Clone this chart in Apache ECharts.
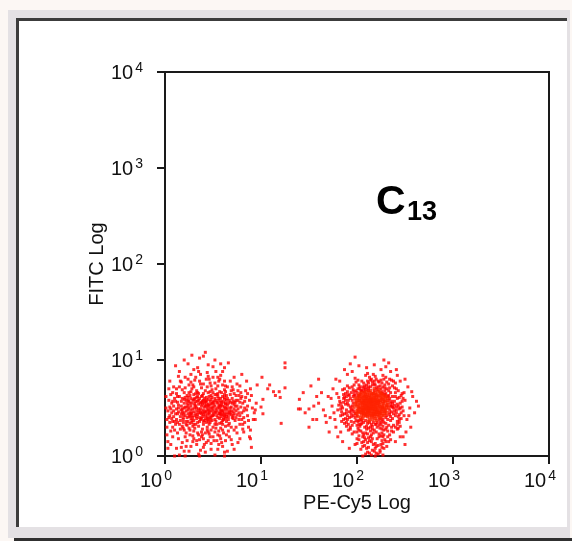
<!DOCTYPE html>
<html><head><meta charset="utf-8">
<script src="https://cdn.jsdelivr.net/npm/echarts@6/dist/echarts.min.js"></script>
<style>html,body{margin:0;padding:0;background:#fff;}#c{width:572px;height:541px;}</style>
</head><body><div id="c"></div>
<script>
// Tick exponents (labels 10^n)
const xTickExps = [0, 1, 2, 3, 4];
const yTickExps = [0, 1, 2, 3, 4];
const xName = 'PE-Cy5 Log';
const yName = 'FITC Log';
const panelLabel = 'C';
const panelSub = '13';

// Events as [log10(PE-Cy5), log10(FITC)]
const cluster1 = [
[0.45,0.48],[0.32,0.52],[0.58,0.41],[0.27,0.39],[0.51,0.57],[0.38,0.44],[0.63,0.50],[0.22,0.47],[0.47,0.35],[0.55,0.62],
[0.41,0.55],[0.35,0.31],[0.68,0.45],[0.29,0.58],[0.49,0.42],[0.60,0.37],[0.24,0.53],[0.43,0.61],[0.53,0.49],[0.36,0.40],
[0.70,0.55],[0.19,0.43],[0.46,0.53],[0.57,0.46],[0.33,0.47],[0.40,0.36],[0.62,0.59],[0.26,0.34],[0.50,0.51],[0.44,0.44],
[0.31,0.60],[0.66,0.41],[0.21,0.51],[0.54,0.33],[0.39,0.57],[0.48,0.47],[0.59,0.54],[0.28,0.45],[0.42,0.39],[0.64,0.48],
[0.35,0.54],[0.52,0.38],[0.25,0.57],[0.45,0.59],[0.61,0.43],[0.37,0.49],[0.56,0.52],[0.30,0.37],[0.47,0.50],[0.72,0.49],
[0.18,0.49],[0.43,0.47],[0.58,0.56],[0.34,0.43],[0.50,0.45],[0.65,0.53],[0.23,0.40],[0.41,0.51],[0.55,0.40],[0.38,0.62],
[0.48,0.54],[0.29,0.49],[0.62,0.45],[0.36,0.36],[0.53,0.58],[0.44,0.41],[0.67,0.47],[0.20,0.55],[0.46,0.44],[0.57,0.50],
[0.32,0.44],[0.49,0.61],[0.40,0.48],[0.60,0.52],[0.27,0.52],[0.51,0.43],[0.35,0.58],[0.63,0.39],[0.43,0.53],[0.54,0.47],
[0.26,0.45],[0.39,0.41],[0.58,0.60],[0.47,0.38],[0.31,0.55],[0.69,0.51],[0.42,0.57],[0.52,0.52],[0.37,0.45],[0.61,0.48],
[0.24,0.48],[0.45,0.36],[0.56,0.44],[0.33,0.50],[0.50,0.56],[0.64,0.43],[0.28,0.42],[0.41,0.45],[0.59,0.47],[0.46,0.62],
[0.12,0.38],[0.78,0.42],[0.15,0.62],[0.81,0.55],[0.09,0.47],[0.74,0.30],[0.16,0.28],[0.85,0.48],[0.07,0.55],[0.77,0.63],
[0.35,0.22],[0.52,0.25],[0.44,0.72],[0.28,0.70],[0.60,0.74],[0.40,0.18],[0.66,0.26],[0.22,0.24],[0.56,0.78],[0.31,0.79],
[0.11,0.33],[0.73,0.37],[0.18,0.69],[0.79,0.66],[0.05,0.42],[0.83,0.35],[0.14,0.50],[0.76,0.58],[0.10,0.60],[0.71,0.69],
[0.48,0.27],[0.25,0.29],[0.63,0.31],[0.37,0.75],[0.53,0.70],[0.19,0.35],[0.68,0.64],[0.42,0.24],[0.57,0.21],[0.30,0.26],
[0.13,0.44],[0.80,0.45],[0.08,0.36],[0.75,0.52],[0.17,0.57],[0.84,0.61],[0.06,0.49],[0.72,0.27],[0.20,0.66],[0.78,0.33],
[0.47,0.76],[0.33,0.68],[0.59,0.66],[0.26,0.63],[0.65,0.72],[0.39,0.28],[0.50,0.20],[0.23,0.32],[0.61,0.24],[0.45,0.66],
[0.10,0.27],[0.70,0.60],[0.16,0.41],[0.82,0.40],[0.04,0.58],[0.74,0.47],[0.12,0.65],[0.79,0.51],[0.08,0.30],[0.76,0.68],
[0.36,0.17],[0.54,0.16],[0.29,0.74],[0.62,0.69],[0.43,0.80],[0.21,0.20],[0.67,0.34],[0.34,0.24],[0.55,0.73],[0.27,0.77],
[0.14,0.53],[0.86,0.52],[0.09,0.41],[0.73,0.56],[0.18,0.31],[0.81,0.28],[0.06,0.64],[0.71,0.42],[0.15,0.72],[0.77,0.38],
[0.49,0.69],[0.32,0.33],[0.58,0.29],[0.40,0.65],[0.64,0.63],[0.24,0.61],[0.46,0.23],[0.38,0.71],[0.52,0.64],[0.30,0.64],
[0.11,0.57],[0.69,0.30],[0.20,0.45],[0.83,0.57],[0.07,0.45],[0.75,0.43],[0.13,0.35],[0.80,0.62],[0.17,0.48],[0.72,0.65],
[0.44,0.30],[0.57,0.34],[0.34,0.66],[0.60,0.27],[0.26,0.27],[0.48,0.73],[0.39,0.22],[0.63,0.67],[0.22,0.58],[0.53,0.29],
[0.03,0.15],[0.12,0.08],[0.25,0.05],[0.40,0.09],[0.55,0.07],[0.70,0.12],[0.88,0.20],[0.92,0.38],[0.95,0.55],[0.89,0.70],
[0.80,0.85],[0.62,0.92],[0.45,0.95],[0.30,0.90],[0.15,0.88],[0.05,0.78],[0.02,0.30],[0.01,0.62],[0.18,0.14],[0.33,0.12],
[0.48,0.13],[0.63,0.16],[0.78,0.18],[0.87,0.30],[0.90,0.63],[0.72,0.82],[0.53,0.88],[0.37,0.85],[0.21,0.82],[0.09,0.72],
[0.36,1.02],[0.28,1.05],[0.42,1.08],[0.52,1.00],[0.20,1.00],[0.66,0.97],[0.11,0.94],[0.58,0.84],[0.27,0.85],[0.44,0.87],
[0.08,0.20],[0.22,0.10],[0.35,0.02],[0.52,0.01],[0.15,0.01],[0.10,0.00],[0.65,0.05],[0.75,0.75],[0.85,0.78],[0.93,0.45],
[0.68,0.78],[0.50,0.82],[0.32,0.82],[0.17,0.77],[0.04,0.70],[0.02,0.22],[0.29,0.15],[0.45,0.16],[0.60,0.10],[0.82,0.25],
[0.21,0.00],[0.36,0.00],[0.62,0.00]
];

const cluster1b = [
[0.19,0.38],[0.34,0.57],[0.52,0.46],[0.67,0.58],[0.23,0.63],[0.40,0.33],[0.57,0.39],[0.71,0.46],[0.28,0.55],[0.45,0.52],
[0.61,0.56],[0.36,0.47],[0.49,0.37],[0.64,0.36],[0.21,0.42],[0.38,0.52],[0.55,0.55],[0.70,0.40],[0.25,0.50],[0.42,0.42],
[0.59,0.43],[0.33,0.39],[0.47,0.57],[0.62,0.51],[0.17,0.52],[0.30,0.46],[0.44,0.50],[0.58,0.48],[0.73,0.52],[0.27,0.60],
[0.41,0.60],[0.54,0.42],[0.68,0.50],[0.22,0.36],[0.37,0.38],[0.51,0.54],[0.65,0.45],[0.31,0.42],[0.46,0.47],[0.60,0.62],
[0.26,0.55],[0.39,0.54],[0.53,0.36],[0.66,0.55],[0.20,0.59],[0.34,0.35],[0.48,0.40],[0.63,0.54],[0.29,0.40],[0.43,0.56],
[0.56,0.58],[0.69,0.43],[0.24,0.44],[0.40,0.43],[0.55,0.50],[0.32,0.57],[0.47,0.41],[0.61,0.40],[0.18,0.46],[0.36,0.60],
[0.50,0.48],[0.64,0.58],[0.28,0.35],[0.42,0.46],[0.57,0.53],[0.71,0.57],[0.25,0.41],[0.38,0.56],[0.52,0.60],[0.66,0.38],
[0.31,0.50],[0.45,0.39],[0.59,0.57],[0.23,0.55],[0.35,0.45],[0.49,0.55],[0.62,0.42],[0.27,0.48],[0.43,0.35],[0.58,0.44],
[0.72,0.44],[0.33,0.61],[0.48,0.59],[0.54,0.64],[0.39,0.63],[0.65,0.60],[0.21,0.61],[0.30,0.33],[0.46,0.33],[0.60,0.33],
[0.14,0.46],[0.16,0.37],[0.13,0.56],[0.76,0.49],[0.78,0.56],[0.74,0.40],[0.50,0.66],[0.35,0.65],[0.57,0.67],[0.42,0.68],
[0.27,0.67],[0.62,0.64],[0.44,0.27],[0.31,0.29],[0.56,0.26],[0.38,0.25],[0.50,0.30],[0.24,0.36],[0.66,0.32],[0.19,0.29],
[0.09,0.52],[0.11,0.44],[0.82,0.47],[0.80,0.38],[0.07,0.39],[0.05,0.51],[0.12,0.70],[0.70,0.72],[0.36,0.78],[0.55,0.82],
[0.25,0.74],[0.46,0.80],[0.62,0.78],[0.16,0.78],[0.41,0.12],[0.29,0.21],[0.58,0.18],[0.23,0.16],[0.47,0.20],[0.67,0.20],
[0.13,0.24],[0.75,0.24],[0.05,0.35],[0.86,0.42],[0.03,0.47],[0.88,0.58],[0.84,0.68],[0.06,0.26],[0.34,0.92],[0.50,0.93],
[0.40,1.04],[0.24,0.96],[0.60,0.88],[0.14,0.83],[0.78,0.73],[0.03,0.08],[0.20,0.05],[0.42,0.04],[0.56,0.12],[0.72,0.07],
[0.20,0.50],[0.35,0.49],[0.50,0.42],[0.65,0.50],[0.28,0.37],[0.43,0.58],[0.58,0.52],[0.24,0.58],[0.39,0.46],[0.54,0.56],
[0.69,0.47],[0.31,0.53],[0.46,0.45],[0.61,0.38],[0.19,0.40],[0.34,0.62],[0.49,0.50],[0.64,0.41],[0.27,0.44],[0.42,0.52],
[0.57,0.44],[0.72,0.54],[0.23,0.51],[0.38,0.39],[0.53,0.45],[0.68,0.56],[0.30,0.59],[0.45,0.54],[0.60,0.46],[0.17,0.44],
[0.33,0.41],[0.48,0.63],[0.63,0.55],[0.26,0.42],[0.41,0.37],[0.56,0.60],[0.71,0.39],[0.22,0.33],[0.37,0.55],[0.52,0.33],
[0.67,0.44],[0.29,0.31],[0.44,0.38],[0.59,0.35],[0.25,0.66],[0.40,0.58],[0.55,0.65],[0.32,0.65],[0.47,0.67],[0.62,0.61],
[0.15,0.33],[0.18,0.60],[0.12,0.49],[0.74,0.58],[0.77,0.45],[0.79,0.60],[0.10,0.36],[0.08,0.57],[0.83,0.50],[0.81,0.33],
[0.30,0.18],[0.45,0.25],[0.55,0.22],[0.38,0.20],[0.26,0.22],[0.64,0.22],[0.20,0.27],[0.51,0.16],[0.43,0.14],[0.33,0.16],
[0.14,0.18],[0.59,0.14],[0.69,0.17],[0.27,0.10],[0.48,0.07],[0.17,0.09],[0.37,0.06],[0.06,0.12],[0.76,0.14],[0.62,0.04],
[0.40,0.75],[0.52,0.76],[0.30,0.72],[0.63,0.73],[0.21,0.71],[0.45,0.83],[0.35,0.88],[0.57,0.80],[0.24,0.80],[0.69,0.68],
[0.13,0.62],[0.74,0.63],[0.08,0.66],[0.87,0.37],[0.91,0.50],[0.04,0.40],[0.01,0.50],[0.02,0.38],[0.86,0.65],[0.58,0.96]
];

const cluster2Core = [
[2.15,0.52],[2.08,0.58],[2.22,0.45],[2.01,0.49],[2.18,0.63],[2.11,0.41],[2.27,0.55],[1.98,0.60],[2.13,0.47],[2.24,0.66],
[2.05,0.43],[2.19,0.54],[2.10,0.62],[2.30,0.48],[2.03,0.55],[2.16,0.38],[2.21,0.59],[2.07,0.51],[2.26,0.42],[1.99,0.44],
[2.14,0.68],[2.20,0.50],[2.09,0.46],[2.32,0.60],[2.04,0.64],[2.17,0.44],[2.23,0.52],[2.12,0.56],[2.00,0.53],[2.28,0.63],
[2.06,0.39],[2.19,0.47],[2.15,0.60],[2.25,0.49],[2.02,0.58],[2.11,0.53],[2.29,0.44],[2.08,0.66],[2.22,0.57],[1.97,0.51],
[2.13,0.42],[2.18,0.70],[2.05,0.48],[2.31,0.53],[2.10,0.49],[2.24,0.40],[2.16,0.57],[2.03,0.62],[2.20,0.64],[2.07,0.45],
[2.27,0.59],[2.12,0.36],[2.14,0.55],[2.23,0.47],[2.01,0.41],[2.19,0.51],[2.09,0.60],[2.26,0.52],[2.04,0.50],[2.17,0.65],
[2.21,0.43],[2.06,0.56],[2.33,0.50],[2.11,0.45],[2.15,0.45],[2.25,0.61],[1.99,0.57],[2.18,0.41],[2.08,0.53],[2.29,0.57],
[2.13,0.59],[2.22,0.62],[2.02,0.46],[2.16,0.50],[2.10,0.67],[2.28,0.46],[2.05,0.60],[2.20,0.37],[2.14,0.49],[2.24,0.56],
[2.07,0.63],[2.19,0.58],[2.00,0.47],[2.26,0.64],[2.12,0.51],[2.31,0.45],[2.09,0.42],[2.17,0.53],[2.23,0.69],[2.04,0.54],
[2.15,0.64],[2.21,0.48],[2.06,0.47],[2.30,0.62],[2.11,0.58],[2.18,0.46],[1.98,0.54],[2.25,0.44],[2.13,0.54],[2.08,0.49],
[2.27,0.51],[2.03,0.65],[2.20,0.55],[2.16,0.42],[2.10,0.55],[2.32,0.56],[2.05,0.45],[2.22,0.50],[2.14,0.61],[2.01,0.52],
[2.24,0.58],[2.12,0.48],[2.18,0.60],[2.07,0.58],[2.29,0.50],[2.15,0.56],[2.09,0.64],[2.23,0.43],[2.19,0.66],[2.02,0.60],
[2.16,0.47],[2.10,0.52],[2.21,0.53],[2.06,0.61],[2.25,0.46],[2.13,0.63],[2.19,0.43],[2.03,0.51],[2.28,0.54],[2.09,0.57],
[2.15,0.41],[2.22,0.67],[2.00,0.56],[2.18,0.56],[2.12,0.45],[2.26,0.60],[2.07,0.48],[2.24,0.51],[2.14,0.58],[2.04,0.46],
[2.20,0.61],[2.11,0.50],[2.29,0.47],[2.08,0.44],[2.17,0.49],[2.23,0.58],[2.02,0.63],[2.13,0.66],[2.19,0.39],[2.06,0.53],
[2.27,0.57],[2.10,0.60],[2.16,0.54],[2.21,0.46],[2.05,0.66],[2.31,0.51],[2.14,0.44],[2.24,0.63],[2.09,0.50],[2.18,0.52],
[2.01,0.45],[2.22,0.41],[2.12,0.61],[2.26,0.48],[2.07,0.55],[2.15,0.58],[2.20,0.57],[2.03,0.58],[2.30,0.58],[2.11,0.47],
[2.17,0.61],[2.23,0.54],[2.08,0.62],[2.13,0.50],[2.25,0.65],[2.04,0.40],[2.19,0.49],[2.10,0.43],[2.28,0.42],[2.16,0.65],
[2.06,0.50],[2.21,0.63],[2.14,0.52],[2.32,0.53],[2.00,0.60],[2.18,0.44],[2.12,0.57],[2.27,0.50],[2.09,0.54],[2.22,0.55],
[2.05,0.57],[2.15,0.49],[2.24,0.45],[2.11,0.64],[2.29,0.61],[2.02,0.49],[2.20,0.46],[2.07,0.42],[2.17,0.58],[2.13,0.38]
];

const cluster2 = [
[1.85,0.50],[2.45,0.55],[1.90,0.38],[2.40,0.42],[1.88,0.65],[2.43,0.68],[1.93,0.30],[2.38,0.32],[1.82,0.57],[2.48,0.47],
[2.00,0.25],[2.15,0.22],[2.28,0.27],[2.05,0.78],[2.20,0.80],[2.33,0.75],[1.95,0.72],[2.10,0.28],[2.25,0.33],[2.12,0.76],
[1.87,0.44],[2.42,0.60],[1.91,0.58],[2.37,0.39],[1.84,0.36],[2.46,0.63],[1.94,0.66],[2.39,0.71],[1.89,0.31],[2.44,0.35],
[2.03,0.31],[2.18,0.27],[2.31,0.30],[2.08,0.73],[2.23,0.77],[2.36,0.79],[1.97,0.35],[2.13,0.82],[2.26,0.24],[2.01,0.70],
[1.86,0.60],[2.47,0.51],[1.92,0.46],[2.41,0.48],[1.80,0.48],[2.50,0.58],[1.96,0.42],[2.35,0.66],[1.90,0.73],[2.42,0.28],
[2.06,0.20],[2.21,0.18],[2.34,0.22],[2.09,0.84],[2.17,0.85],[2.30,0.82],[1.99,0.77],[2.14,0.30],[2.27,0.72],[2.04,0.26],
[1.83,0.42],[2.44,0.43],[1.88,0.54],[2.39,0.57],[1.85,0.69],[2.46,0.39],[1.93,0.51],[2.36,0.46],[1.91,0.27],[2.40,0.76],
[2.02,0.37],[2.19,0.33],[2.32,0.38],[2.07,0.70],[2.22,0.72],[2.35,0.52],[1.96,0.62],[2.11,0.34],[2.28,0.35],[2.16,0.74],
[1.87,0.34],[2.49,0.66],[1.94,0.47],[2.38,0.50],[1.81,0.53],[2.45,0.31],[1.97,0.67],[2.34,0.60],[1.89,0.62],[2.43,0.52],
[2.00,0.32],[2.24,0.29],[2.09,0.24],[2.18,0.78],[2.31,0.70],[2.05,0.68],[2.27,0.20],[2.12,0.19],[2.38,0.25],[1.95,0.23],
[2.15,0.15],[2.20,0.10],[2.10,0.08],[2.25,0.12],[2.05,0.14],[2.18,0.05],[2.22,0.02],[2.13,0.03],[2.30,0.15],[2.00,0.18],
[2.28,0.08],[2.08,0.11],[2.35,0.17],[1.98,0.12],[2.17,0.12],[2.06,0.00],[2.19,0.00],[2.27,0.01],
[1.60,0.55],[1.65,0.48],[1.70,0.62],[1.72,0.40],[1.75,0.70],[1.78,0.30],[1.68,0.35],[1.63,0.66],[1.74,0.52],[1.76,0.45],
[2.55,0.50],[2.58,0.62],[2.52,0.38],[2.60,0.45],[2.53,0.72],[2.62,0.57],[2.56,0.30],[2.50,0.80],[2.64,0.52],[2.51,0.25],
[1.95,0.88],[2.10,0.92],[2.25,0.90],[2.35,0.88],[2.42,0.84],[2.02,0.94],[2.18,0.95],[2.30,0.93],[1.90,0.85],[2.45,0.78],
[1.80,0.20],[1.85,0.15],[1.92,0.08],[2.40,0.15],[2.45,0.20],[2.50,0.12],[1.78,0.80],[1.82,0.78],[1.98,1.03],[2.28,1.00],
[1.73,0.60],[1.77,0.38],[2.57,0.67],[2.54,0.42],[2.48,0.20],[1.83,0.25],[2.41,0.90],[1.87,0.90],[1.93,0.96],[2.33,0.97],
[1.58,0.62],[1.55,0.52],[1.67,0.42],[1.71,0.25],[1.79,0.65],
[1.96,0.55],[1.94,0.44],[2.34,0.45],[2.36,0.57],[1.97,0.64],[2.33,0.63],[2.01,0.36],[2.27,0.38],[2.12,0.70],[2.20,0.71],
[2.05,0.34],[2.24,0.35],[2.15,0.33],[2.09,0.69],[2.29,0.68],[1.98,0.40],[2.35,0.41],[2.03,0.70],[2.17,0.35],[2.25,0.70],
[1.89,0.48],[1.91,0.53],[2.39,0.53],[2.41,0.45],[1.86,0.56],[2.37,0.62],[1.92,0.63],[1.90,0.42],[2.40,0.66],[1.94,0.36],
[2.08,0.30],[2.21,0.30],[2.14,0.26],[2.01,0.29],[2.30,0.34],[2.11,0.78],[2.26,0.76],[2.02,0.74],[2.19,0.74],[2.34,0.71],
[2.07,0.22],[2.23,0.23],[2.16,0.18],[2.11,0.14],[2.26,0.16],[2.02,0.21],[2.32,0.26],[2.19,0.08],[2.09,0.17],[2.24,0.06],
[1.84,0.46],[1.88,0.39],[2.44,0.49],[2.47,0.57],[1.86,0.64],[2.42,0.36],[1.81,0.61],[2.49,0.42],[1.98,0.81],[2.27,0.84],
[1.88,0.58],[2.42,0.54],[1.92,0.40],[2.38,0.44],[1.90,0.67],[2.41,0.70],[1.95,0.32],[2.36,0.30],[1.84,0.52],[2.46,0.45],
[2.02,0.27],[2.17,0.24],[2.30,0.28],[2.07,0.76],[2.22,0.78],[2.31,0.77],[1.97,0.74],[2.12,0.29],[2.27,0.31],[2.14,0.79],
[1.89,0.45],[2.40,0.62],[1.93,0.60],[2.35,0.37],[1.86,0.38],[2.44,0.61],[1.96,0.69],[2.37,0.73],[1.91,0.33],[2.42,0.33],
[2.04,0.33],[2.20,0.25],[2.33,0.32],[2.10,0.74],[2.25,0.79],[2.34,0.80],[1.99,0.37],[2.15,0.80],[2.28,0.22],[2.03,0.72],
[1.87,0.61],[2.45,0.50],[1.94,0.49],[2.39,0.47],[1.83,0.49],[2.48,0.60],[1.98,0.44],[2.33,0.68],[1.92,0.71],[2.40,0.30],
[2.08,0.19],[2.23,0.20],[2.32,0.20],[2.11,0.86],[2.19,0.83],[2.28,0.80],[2.01,0.79],[2.16,0.28],[2.29,0.74],[2.06,0.24],
[1.85,0.43],[2.43,0.41],[1.90,0.55],[2.37,0.55],[1.87,0.70],[2.44,0.38],[1.95,0.52],[2.34,0.48],[1.93,0.28],[2.38,0.78],
[2.04,0.38],[2.21,0.35],[2.30,0.40],[2.09,0.71],[2.24,0.73],[2.37,0.51],[1.98,0.63],[2.13,0.35],[2.26,0.36],[2.18,0.75],
[1.89,0.35],[2.47,0.65],[1.96,0.48],[2.36,0.52],[1.83,0.55],[2.43,0.29],[1.99,0.68],[2.32,0.62],[1.91,0.64],[2.41,0.51],
[2.02,0.33],[2.26,0.28],[2.11,0.23],[2.16,0.77],[2.29,0.71],[2.07,0.67],[2.25,0.21],[2.14,0.20],[2.36,0.26],[1.97,0.25],
[2.13,0.16],[2.22,0.11],[2.12,0.09],[2.27,0.13],[2.07,0.15],[2.16,0.06],[2.20,0.03],[2.11,0.04],[2.29,0.17],[2.02,0.17],
[2.26,0.09],[2.06,0.10],[2.33,0.15],[2.00,0.13],[2.19,0.13],[2.09,0.02],[2.15,0.01],[2.24,0.04],[2.04,0.07],[2.31,0.10],
[2.05,0.37],[2.23,0.38],[2.10,0.31],[2.20,0.33],[2.00,0.66],[2.30,0.65],[2.12,0.72],[2.21,0.69],[2.06,0.72],[2.26,0.67],
[1.95,0.58],[2.35,0.55],[1.94,0.41],[2.34,0.43],[1.97,0.46],[2.33,0.58],[2.04,0.68],[2.27,0.65],[2.07,0.35],[2.23,0.32],
[2.00,0.42],[2.31,0.42],[2.01,0.63],[2.29,0.64],[2.16,0.31],[2.12,0.68],[2.18,0.68],[2.09,0.37],[2.25,0.39],[2.14,0.72]
];

const strays = [
[1.25,0.97],[1.25,0.92],[1.01,0.82],[0.96,0.74],[1.09,0.74],[1.07,0.70],[1.13,0.67],[1.19,0.67],[1.15,0.63],[1.20,0.61],
[1.02,0.59],[1.25,0.71],[1.44,0.66],[1.40,0.59],[1.39,0.49],[1.41,0.49],[1.46,0.45],[1.50,0.49],[1.52,0.73],[1.00,0.51],
[1.02,0.44],[0.94,0.38],[1.21,0.34],[1.50,0.30],[1.54,0.38],[1.58,0.38],[1.60,0.80],[0.89,0.27],[0.89,0.18],[0.90,0.09],
[0.94,0.48]
];

const toVal = arr => arr.map(p => [Math.pow(10, p[0]), Math.pow(10, p[1])]);
const supLabel = v => {
  const e = Math.round(Math.log10(v));
  return '{b|10}{s|' + e + '}';
};
const FONT = '"Liberation Sans", Arial, sans-serif';
const rich = {
  b: { fontFamily: FONT, fontSize: 20, color: '#111', lineHeight: 22, verticalAlign: 'bottom' },
  s: { fontFamily: FONT, fontSize: 14, color: '#111', lineHeight: 14, verticalAlign: 'top', padding: [0, 0, 0, 2] }
};

const chart = echarts.init(document.getElementById('c'), null, { renderer: 'canvas' });
const pointStyle = (c, s) => ({ type: 'scatter', symbol: 'rect', symbolSize: s, silent: true, animation: false,
  itemStyle: { color: c }, z: 3 });

chart.setOption({
  animation: false,
  backgroundColor: '#ffffff',
  graphic: [
    { type: 'rect', shape: { x: 0, y: 0, width: 572, height: 541 }, style: { fill: '#fcf7f4' }, z: -10, silent: true },
    { type: 'rect', shape: { x: 8, y: 10, width: 562, height: 528 }, style: { fill: '#e4e1e4' }, z: -9, silent: true },
    { type: 'rect', shape: { x: 16, y: 18, width: 551, height: 509 }, style: { fill: '#3c3c3c' }, z: -8, silent: true },
    { type: 'rect', shape: { x: 19, y: 21, width: 548, height: 506 }, style: { fill: '#ffffff' }, z: -7, silent: true },
    { type: 'rect', shape: { x: 14, y: 538, width: 558, height: 3 }, style: { fill: '#303030' }, z: -6, silent: true },
    { type: 'text', x: 376, y: 182, style: { text: panelLabel, font: 'bold 41px "Liberation Sans", Arial', fill: '#000' }, z: 10 },
    { type: 'text', x: 407, y: 199, style: { text: panelSub, font: 'bold 27px "Liberation Sans", Arial', fill: '#000' }, z: 10 }
  ],
  grid: { left: 165, top: 72, width: 384, height: 384, show: true, borderColor: '#1a1a1a', borderWidth: 2, backgroundColor: 'transparent' },
  xAxis: {
    type: 'log', logBase: 10, min: 1, max: 10000,
    name: xName, nameLocation: 'middle', nameGap: 37, nameMoveOverlap: false,
    nameTextStyle: { fontFamily: FONT, fontSize: 20, color: '#111' },
    axisLine: { lineStyle: { color: '#1a1a1a', width: 2 } },
    axisTick: { show: true, inside: false, length: 8, lineStyle: { color: '#1a1a1a', width: 2 } },
    minorTick: { show: false }, splitLine: { show: false },
    axisLabel: { margin: 13, padding: [0, 18, 0, 0], formatter: v => xTickExps.includes(Math.round(Math.log10(v))) ? supLabel(v) : '', rich: rich }
  },
  yAxis: {
    type: 'log', logBase: 10, min: 1, max: 10000,
    name: yName, nameLocation: 'middle', nameGap: 58, nameRotate: 90, nameMoveOverlap: false,
    nameTextStyle: { fontFamily: FONT, fontSize: 20, color: '#111' },
    axisLine: { lineStyle: { color: '#1a1a1a', width: 2 } },
    axisTick: { show: true, inside: false, length: 8, lineStyle: { color: '#1a1a1a', width: 2 } },
    minorTick: { show: false }, splitLine: { show: false },
    axisLabel: { margin: 22, formatter: v => yTickExps.includes(Math.round(Math.log10(v))) ? supLabel(v) : '', rich: rich }
  },
  series: [
    Object.assign(pointStyle('#ff0000', 3), { name: 'cluster1', data: toVal(cluster1) }),
    Object.assign(pointStyle('#ff0000', 3), { name: 'cluster1b', data: toVal(cluster1b) }),
    Object.assign(pointStyle('#ff0000', 3), { name: 'cluster2', data: toVal(cluster2) }),
    Object.assign(pointStyle('#ff2200', 3.5), { name: 'cluster2core', data: toVal(cluster2Core) }),
    Object.assign(pointStyle('#ff0000', 3), { name: 'strays', data: toVal(strays) })
  ]
});
</script>
</body></html>
